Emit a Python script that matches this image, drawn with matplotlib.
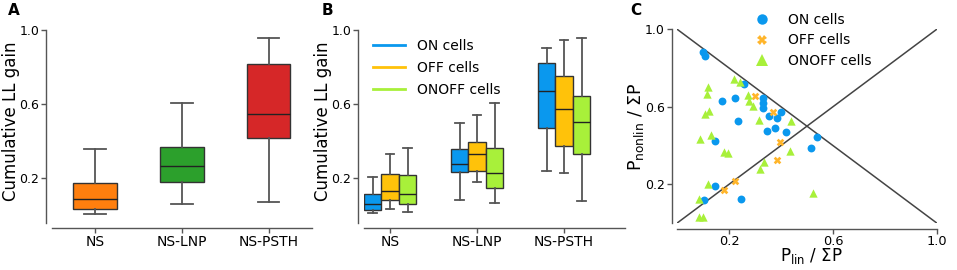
import numpy as np
import matplotlib
matplotlib.use("Agg")
from matplotlib import pyplot as plt
from matplotlib.lines import Line2D

plt.rcParams['font.family'] = ['DejaVu Sans']
plt.rcParams['mathtext.default'] = 'regular'

groups = ['NS', 'NS-LNP', 'NS-PSTH']

# panel A: all cells
a_whislo = [0.005, 0.059, 0.070]
a_q1 = [0.029, 0.177, 0.413]
a_med = [0.085, 0.262, 0.546]
a_q3 = [0.173, 0.368, 0.813]
a_whishi = [0.355, 0.602, 0.955]

# panel B: split by cell type
on_whislo = [0.012, 0.080, 0.236]
on_q1 = [0.024, 0.230, 0.469]
on_med = [0.060, 0.272, 0.669]
on_q3 = [0.112, 0.356, 0.818]
on_whishi = [0.203, 0.496, 0.902]

off_whislo = [0.033, 0.178, 0.227]
off_q1 = [0.082, 0.236, 0.370]
off_med = [0.130, 0.329, 0.571]
off_q3 = [0.218, 0.395, 0.752]
off_whishi = [0.329, 0.540, 0.944]

onoff_whislo = [0.015, 0.063, 0.074]
onoff_q1 = [0.056, 0.146, 0.329]
onoff_med = [0.114, 0.223, 0.499]
onoff_q3 = [0.216, 0.358, 0.642]
onoff_whishi = [0.361, 0.603, 0.956]

cell_types = ['ON cells', 'OFF cells', 'ONOFF cells']

# panel C: fraction of power
on_lin = [0.098, 0.109, 0.257, 0.171, 0.223, 0.332, 0.332, 0.332, 0.355, 0.399, 0.386,
          0.234, 0.376, 0.345, 0.418, 0.538, 0.514, 0.146, 0.147, 0.103, 0.246]
on_nonlin = [0.884, 0.863, 0.716, 0.631, 0.645, 0.644, 0.618, 0.595, 0.552, 0.575, 0.540,
             0.528, 0.492, 0.475, 0.471, 0.444, 0.386, 0.425, 0.193, 0.120, 0.122]
off_lin = [0.301, 0.368, 0.396, 0.383, 0.224, 0.182]
off_nonlin = [0.656, 0.575, 0.417, 0.324, 0.217, 0.170]
onoff_lin = [0.220, 0.242, 0.117, 0.114, 0.272, 0.276, 0.293, 0.124, 0.108, 0.314, 0.439, 0.088,
             0.130, 0.179, 0.195, 0.436, 0.336, 0.320, 0.117, 0.083, 0.085, 0.098, 0.525]
onoff_nonlin = [0.742, 0.729, 0.702, 0.664, 0.659, 0.630, 0.604, 0.578, 0.561, 0.532, 0.527, 0.432,
                0.455, 0.368, 0.360, 0.372, 0.317, 0.277, 0.201, 0.122, 0.029, 0.029, 0.153]

a_colors = ['#ff7f0e', '#2ca02c', '#d62728']
type_colors = ['#0a98ee', '#ffc20a', '#a8f03a']
scatter_colors = ['#0a98ee', '#ffb52a', '#a8f03a']

W, H = 957, 270
axis_grey = '#555555'


def style_axes(ax):
    for s in ['top', 'right']:
        ax.spines[s].set_visible(False)
    for s in ['left', 'bottom']:
        ax.spines[s].set_position(('outward', 4))
        ax.spines[s].set_color(axis_grey)
        ax.spines[s].set_linewidth(1.0)
    ax.tick_params(direction='out', length=3.5, width=1, color=axis_grey)
    ax.tick_params(axis='y', labelsize=9, pad=1.5)


def make_stats(lo, q1, med, q3, hi):
    return [dict(whislo=a, q1=b, med=c, q3=d, whishi=e, fliers=[])
            for a, b, c, d, e in zip(lo, q1, med, q3, hi)]


def draw_boxes(ax, stats, positions, width, colors):
    bp = ax.bxp(stats, positions=positions, widths=width, patch_artist=True,
                showfliers=False, manage_ticks=False,
                boxprops=dict(edgecolor='#333333', linewidth=1.0),
                whiskerprops=dict(color=axis_grey, linewidth=1.3),
                capprops=dict(color=axis_grey, linewidth=1.3),
                medianprops=dict(color='#222222', linewidth=1.0))
    for patch, c in zip(bp['boxes'], colors):
        patch.set_facecolor(c)
    return bp


fig = plt.figure(figsize=(W / 100, H / 100), dpi=100)

def fig_axes(left, right, top, bottom):
    return fig.add_axes([left / W, 1 - bottom / H, (right - left) / W, (bottom - top) / H])

# ---- panel A
axA = fig_axes(51.7, 312, 29.7, 222.7)
draw_boxes(axA, make_stats(a_whislo, a_q1, a_med, a_q3, a_whishi), [0, 1, 2], 0.5, a_colors)
axA.set_xlim(-0.5, 2.5)
axA.set_ylim(-0.043, 1.0)
axA.set_yticks([0.2, 0.6, 1.0])
axA.set_xticks([0, 1, 2])
axA.set_xticklabels(groups, fontsize=11.3)
style_axes(axA)
axA.tick_params(axis='x', pad=1)

# ---- panel B
axB = fig_axes(364, 625, 29.7, 222.7)
all_types = [
    make_stats(on_whislo, on_q1, on_med, on_q3, on_whishi),
    make_stats(off_whislo, off_q1, off_med, off_q3, off_whishi),
    make_stats(onoff_whislo, onoff_q1, onoff_med, onoff_q3, onoff_whishi),
]
offsets = [-0.2, 0.0, 0.2]
for stats, off, c in zip(all_types, offsets, type_colors):
    draw_boxes(axB, stats, [g + off for g in range(len(groups))], 0.2, [c] * len(groups))
axB.set_xlim(-0.3, 2.7)
axB.set_ylim(-0.043, 1.0)
axB.set_yticks([0.2, 0.6, 1.0])
axB.set_xticks([0, 1, 2])
axB.set_xticklabels(groups, fontsize=11.3)
style_axes(axB)
axB.tick_params(axis='x', pad=1)
handles = [Line2D([], [], color=c, lw=2) for c in type_colors]
axB.legend(handles, cell_types, loc='upper left', bbox_to_anchor=(0.036, 0.952),
           frameon=False, fontsize=10, borderpad=0, borderaxespad=0,
           handlelength=2.28, handletextpad=0.84, labelspacing=0.56)

# ---- panel C
axC = fig_axes(677.2, 936.7, 29.3, 223)
axC.plot([0, 1], [1, 0], color='#444444', lw=1.1)
axC.plot([0, 1], [0, 1], color='#444444', lw=1.1)
axC.scatter(on_lin, on_nonlin, s=32, marker='o', color=scatter_colors[0], linewidths=0, zorder=3)
axC.scatter(off_lin, off_nonlin, s=30, marker='X', color=scatter_colors[1], linewidths=0, zorder=3)
axC.scatter(onoff_lin, onoff_nonlin, s=36, marker='^', color=scatter_colors[2], linewidths=0, zorder=3)
axC.set_xlim(0, 1)
axC.set_ylim(0, 1)
axC.set_xticks([0.2, 0.6, 1.0])
axC.set_yticks([0.2, 0.6, 1.0])
style_axes(axC)
axC.tick_params(axis='x', labelsize=9.3, pad=1.2)
c_handles = [Line2D([], [], marker=m, color=c, linestyle='None', markersize=ms, markeredgewidth=0)
             for m, c, ms in zip(['o', 'X', '^'], scatter_colors, [7.5, 7.0, 8.0])]
axC.legend(c_handles, cell_types, loc='upper left', bbox_to_anchor=(0.30, 1.085),
           frameon=False, fontsize=10, borderpad=0, borderaxespad=0,
           handlelength=1.0, handletextpad=1.37, labelspacing=0.47)

# ---- axis labels and panel letters
fig.text(11.0 / W, 1 - 121.7 / H, 'Cumulative LL gain', rotation=90, ha='center', va='center', fontsize=12)
fig.text(323.3 / W, 1 - 121.7 / H, 'Cumulative LL gain', rotation=90, ha='center', va='center', fontsize=12)
fig.text(640.5 / W, 1 - 127 / H, r'P$_{nonlin}$ / ΣP', rotation=90, rotation_mode='anchor',
         ha='center', va='baseline', fontsize=12.5)
fig.text(811.5 / W, 1 - 261.5 / H, r'P$_{lin}$ / ΣP', ha='center', va='baseline', fontsize=12)

for x, letter in [(8.3, 'A'), (321.7, 'B'), (630, 'C')]:
    fig.text(x / W, 1 - 15 / H, letter, fontsize=11, fontweight='bold', ha='left', va='baseline')

fig.savefig('out.png', dpi=100)
